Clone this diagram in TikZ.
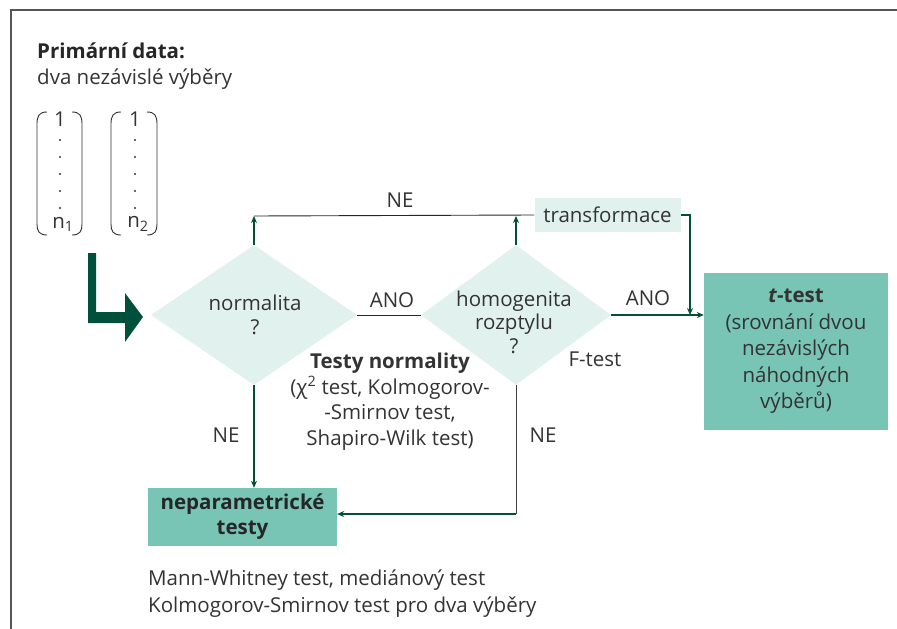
\documentclass[tikz,border=0pt]{standalone}
\usepackage{fontspec}
\setmainfont{Open Sans}
\usetikzlibrary{arrows.meta,shapes.geometric}
\definecolor{dgreen}{HTML}{00503C}
\definecolor{mint}{HTML}{E1F2EE}
\definecolor{teal}{HTML}{78C4B5}
\definecolor{txt}{HTML}{333333}
\definecolor{framec}{HTML}{555555}
\tikzset{
  framel/.style={draw=framec, line width=1.5pt},
  thinline/.style={draw=black!85, line width=0.9pt},
  garrow/.style={draw=dgreen, line width=1.4pt, -{Stealth[length=7pt,width=6pt]}},
  dia/.style={shape=diamond, fill=mint, draw=none, inner sep=0pt},
  lbl/.style={text=txt, inner sep=0pt},
  tfbox/.style={fill=mint, draw=none, minimum width=146pt, minimum height=34pt, inner sep=0pt, text=txt},
  tealbox/.style={fill=teal, draw=none, inner sep=0pt, align=center},
}
\begin{document}
\begin{tikzpicture}[x=1pt,y=-1pt, font=\fontsize{20.5}{24}\selectfont]
\useasboundingbox (0,0) rectangle (897,629);
\draw[framel] (11,629) -- (11,10) -- (897,10);

% header
\node[lbl, anchor=west, text=black!85] (h1) at (37,51) {\bfseries Primární data:};
\node[lbl, anchor=west] (h2) at (37,79) {dva nezávislé výběry};

% vectors
\draw[txt, line width=0.9pt] (47,112) .. controls (39,112) and (37,116) .. (37,124) -- (37,224) .. controls (37,231) and (39,235) .. (47,235);
\draw[txt, line width=0.9pt] (72,112) .. controls (80,112) and (82,116) .. (82,124) -- (82,224) .. controls (82,231) and (80,235) .. (72,235);
\node[lbl] (a1) at (60,119) {1};
\foreach \yy in {140,157,174,191,208} { \fill[txt] (60,\yy) circle (1.2pt); }
\node[lbl] (an) at (63,224) {n\textsubscript{1}};
\draw[txt, line width=0.9pt] (121,112) .. controls (113,112) and (111,116) .. (111,124) -- (111,224) .. controls (111,231) and (113,235) .. (121,235);
\draw[txt, line width=0.9pt] (147,112) .. controls (155,112) and (157,116) .. (157,124) -- (157,224) .. controls (157,231) and (155,235) .. (147,235);
\node[lbl] (b1) at (135,119) {1};
\foreach \yy in {140,157,174,191,208} { \fill[txt] (135,\yy) circle (1.2pt); }
\node[lbl] (bn) at (138,224) {n\textsubscript{2}};

% big L arrow
\fill[dgreen] (88,253) -- (96,253) -- (96,312) -- (125,312) -- (125,293) -- (143,317) -- (125,342) -- (125,323) -- (88,323) -- cycle;

% diamonds
\node[dia, minimum width=206pt, minimum height=140pt] (d1) at (254,315) {};
\node[lbl, align=center] (d1t) at (255,315) {normalita\\?};
\node[dia, minimum width=190pt, minimum height=140pt] (d2) at (516,315) {};
\node[lbl, align=center, font=\fontsize{20.5}{23.5}\selectfont] (d2t) at (514,322) {homogenita\\rozptylu\\?};

% transformace
\node[tfbox] (tf) at (607.5,215) {transformace};

% t-test
\node[tealbox, minimum width=184pt, minimum height=157pt, text=txt, font=\fontsize{20.5}{26.5}\selectfont] (tt) at (796,351.5) {\textbf{\textit{t}-test}\\(srovnání dvou\\nezávislých\\náhodných\\výběrů)};

% neparametricke
\node[tealbox, minimum width=189pt, minimum height=58pt, text=black!85, font=\fontsize{20.5}{25}\selectfont\bfseries] (np) at (242.5,517) {neparametrické\\testy};

% connectors
\coordinate (tl) at (254,216);
\coordinate (tr) at (516,216);
\coordinate (j) at (690,315);
\coordinate (c) at (516,514);
\draw[thinline] (d1.east) -- (d2.west);
\draw[garrow] (d1.north) -- (tl);
\draw[garrow] (d2.north) -- (tr);
\draw[thinline] (tf.west) -- (tl);
\draw[garrow] (tf.east) -| (j);
\draw[garrow] (d2.east) -- (d2.east -| tt.west);
\draw[garrow] (d1.south) -- (d1.south |- np.north);
\draw[draw=black!75, line width=0.9pt] (d2.south) -- (c);
\draw[garrow] (c) -- (c -| np.east);

% labels
\node[lbl] (l1) at (392,300) {ANO};
\node[lbl] (l2) at (648,298) {ANO};
\node[lbl] (l3) at (400,200) {NE};
\node[lbl] (l4) at (226,435) {NE};
\node[lbl] (l5) at (543,435) {NE};
\node[lbl] (l6) at (595,359) {F-test};
\node[lbl, align=center, font=\fontsize{20.5}{25.5}\selectfont] (tn) at (390,401.5) {\textbf{Testy normality}\\(χ\textsuperscript{2} test, Kolmogorov-\\-Smirnov test,\\Shapiro-Wilk test)};
\node[lbl, anchor=west, align=left, font=\fontsize{20.5}{27}\selectfont] (bt) at (148,593.5) {Mann-Whitney test, mediánový test\\Kolmogorov-Smirnov test pro dva výběry};
\end{tikzpicture}
\end{document}
